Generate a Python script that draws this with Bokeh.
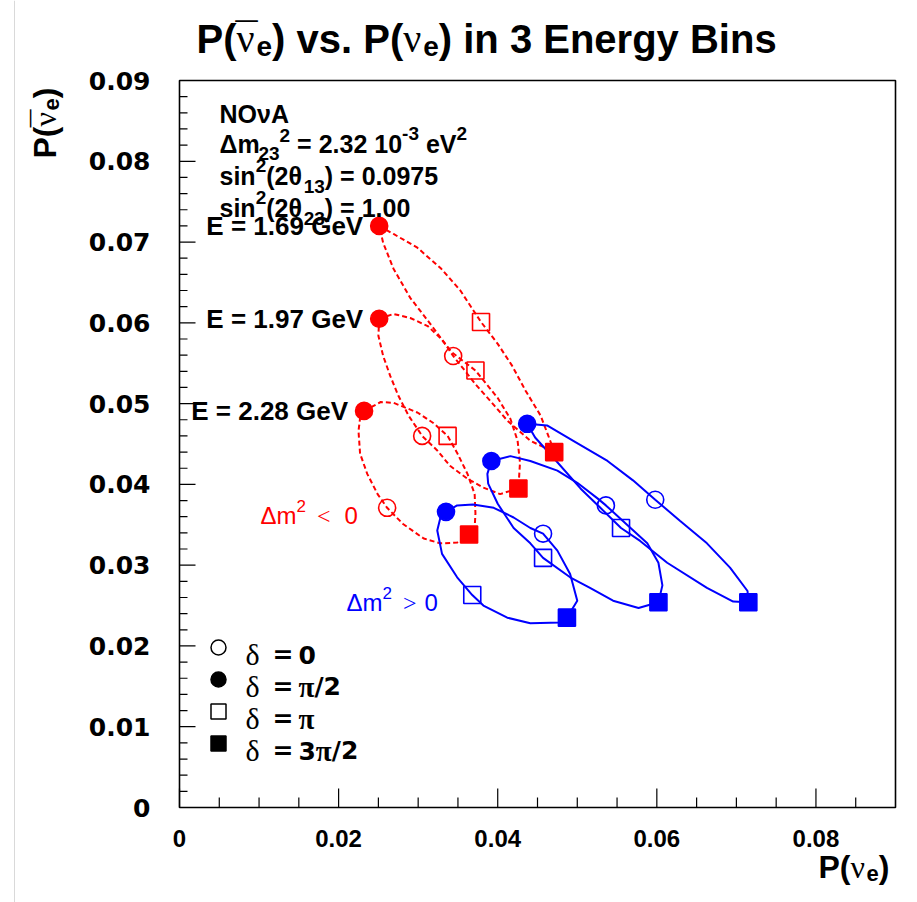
import math
from bokeh.plotting import figure
from bokeh.models import Label, Range1d
from bokeh.core.properties import value
from bokeh.embed import file_html
from bokeh.resources import INLINE

# ---------------- data ----------------
energies = ["1.69", "1.97", "2.28"]

# Marker positions (P(nu_e), P(nubar_e)) for delta = 0, pi/2, pi, 3pi/2, one per energy bin
# normal hierarchy, dm^2 > 0
nh_d0_x = [0.0598, 0.0536, 0.0457]
nh_d0_y = [0.0381, 0.0374, 0.0339]
nh_d90_x = [0.0437, 0.0392, 0.0335]
nh_d90_y = [0.0475, 0.0429, 0.0366]
nh_d180_x = [0.0555, 0.0457, 0.0368]
nh_d180_y = [0.0346, 0.0309, 0.0263]
nh_d270_x = [0.0715, 0.0602, 0.0487]
nh_d270_y = [0.0254, 0.0254, 0.0235]
# inverted hierarchy, dm^2 < 0
ih_d0_x = [0.0344, 0.0305, 0.0261]
ih_d0_y = [0.0559, 0.0460, 0.0371]
ih_d90_x = [0.0251, 0.0251, 0.0232]
ih_d90_y = [0.0720, 0.0605, 0.0491]
ih_d180_x = [0.0379, 0.0372, 0.0337]
ih_d180_y = [0.0601, 0.0541, 0.0460]
ih_d270_x = [0.0471, 0.0426, 0.0364]
ih_d270_y = [0.0440, 0.0395, 0.0338]

# Closed delta-scan curves
ih_169_x = [0.0251, 0.0269, 0.0299, 0.0328, 0.0353, 0.0379, 0.0400, 0.0418, 0.0435, 0.0454, 0.0466, 0.0471,
            0.0441, 0.0412, 0.0391, 0.0372, 0.0357, 0.0344, 0.0334, 0.0315, 0.0290, 0.0269, 0.0256, 0.0251]
ih_169_y = [0.0720, 0.0710, 0.0693, 0.0668, 0.0640, 0.0601, 0.0574, 0.0547, 0.0516, 0.0485, 0.0454, 0.0440,
            0.0454, 0.0479, 0.0503, 0.0524, 0.0543, 0.0559, 0.0574, 0.0599, 0.0631, 0.0667, 0.0699, 0.0720]
ih_197_x = [0.0251, 0.0269, 0.0290, 0.0312, 0.0328, 0.0343, 0.0372, 0.0400, 0.0416, 0.0425, 0.0428, 0.0426,
            0.0403, 0.0382, 0.0362, 0.0340, 0.0324, 0.0305, 0.0288, 0.0275, 0.0265, 0.0256, 0.0250, 0.0251]
ih_197_y = [0.0605, 0.0611, 0.0606, 0.0596, 0.0581, 0.0563, 0.0541, 0.0507, 0.0481, 0.0454, 0.0427, 0.0395,
            0.0388, 0.0396, 0.0407, 0.0423, 0.0442, 0.0460, 0.0485, 0.0510, 0.0534, 0.0559, 0.0584, 0.0605]
ih_228_x = [0.0232, 0.0253, 0.0269, 0.0299, 0.0319, 0.0337, 0.0349, 0.0362, 0.0371, 0.0372, 0.0371, 0.0364,
            0.0349, 0.0328, 0.0307, 0.0281, 0.0261, 0.0249, 0.0236, 0.0227, 0.0225, 0.0227, 0.0232]
ih_228_y = [0.0491, 0.0502, 0.0501, 0.0489, 0.0476, 0.0460, 0.0439, 0.0413, 0.0388, 0.0364, 0.0346, 0.0338,
            0.0328, 0.0327, 0.0333, 0.0351, 0.0371, 0.0388, 0.0413, 0.0438, 0.0466, 0.0482, 0.0491]
nh_169_x = [0.0437, 0.0462, 0.0495, 0.0538, 0.0570, 0.0598, 0.0629, 0.0663, 0.0692, 0.0714, 0.0715,
            0.0696, 0.0663, 0.0613, 0.0579, 0.0555, 0.0529, 0.0504, 0.0470, 0.0447, 0.0437]
nh_169_y = [0.0475, 0.0473, 0.0454, 0.0429, 0.0405, 0.0381, 0.0355, 0.0327, 0.0297, 0.0268, 0.0254,
            0.0255, 0.0272, 0.0303, 0.0330, 0.0346, 0.0371, 0.0395, 0.0433, 0.0458, 0.0475]
nh_197_x = [0.0392, 0.0416, 0.0441, 0.0475, 0.0500, 0.0525, 0.0536, 0.0567, 0.0588, 0.0602, 0.0607, 0.0602,
            0.0577, 0.0545, 0.0516, 0.0491, 0.0457, 0.0441, 0.0420, 0.0400, 0.0388, 0.0387, 0.0392]
nh_197_y = [0.0429, 0.0435, 0.0429, 0.0417, 0.0402, 0.0383, 0.0374, 0.0346, 0.0327, 0.0303, 0.0275, 0.0254,
            0.0247, 0.0256, 0.0272, 0.0285, 0.0309, 0.0327, 0.0346, 0.0376, 0.0401, 0.0413, 0.0429]
nh_228_x = [0.0335, 0.0349, 0.0369, 0.0395, 0.0420, 0.0441, 0.0457, 0.0475, 0.0491, 0.0500, 0.0487,
            0.0479, 0.0441, 0.0412, 0.0382, 0.0368, 0.0349, 0.0330, 0.0324, 0.0328, 0.0335]
nh_228_y = [0.0366, 0.0374, 0.0375, 0.0371, 0.0359, 0.0346, 0.0339, 0.0318, 0.0289, 0.0256, 0.0235,
            0.0229, 0.0228, 0.0235, 0.0250, 0.0263, 0.0285, 0.0314, 0.0343, 0.0359, 0.0366]

axis_min, axis_max = 0.0, 0.09
x_ticks = [0, 0.02, 0.04, 0.06, 0.08]
x_tick_labels = ["0", "0.02", "0.04", "0.06", "0.08"]
y_ticks = [0, 0.01, 0.02, 0.03, 0.04, 0.05, 0.06, 0.07, 0.08, 0.09]
y_tick_labels = ["0", "0.01", "0.02", "0.03", "0.04", "0.05", "0.06", "0.07", "0.08", "0.09"]
delta_values = ["0", "π/2", "π", "3π/2"]

# ---------------- canvas geometry (pixels) ----------------
W, H = 917, 902
FL, FR, FT, FB = 179, 895, 80, 807          # plotting box edges
KX = (axis_max - axis_min) / (FR - FL)      # data units per pixel
KY = (axis_max - axis_min) / (FB - FT)
RED, BLUE = "#ff0000", "#0000ff"


def fx(px):
    return axis_min + (px - FL) * KX


def fy(py):
    return axis_min + (FB - py) * KY


p = figure(width=W, height=H, output_backend="svg", toolbar_location=None, title=None,
           x_range=Range1d(fx(0), fx(W)), y_range=Range1d(fy(H), fy(0)),
           x_axis_location=None, y_axis_location=None,
           min_border_left=0, min_border_right=0, min_border_top=0, min_border_bottom=0)
p.background_fill_color = "white"
p.border_fill_color = "white"
p.outline_line_color = None
p.xgrid.visible = False
p.ygrid.visible = False

# thin page edge on the left
p.segment(x0=[fx(14)], y0=[fy(0)], x1=[fx(14)], y1=[fy(H)], line_color="#d9d9d9", line_width=1)

# ---------------- axes box, ticks and tick labels ----------------
p.quad(left=[axis_min], right=[axis_max], bottom=[axis_min], top=[axis_max],
       fill_color=None, line_color="black", line_width=1.6)

x_minor = [i * 0.005 for i in range(1, 18) if i % 4 != 0]
y_minor = [i * 0.002 for i in range(1, 45) if i % 5 != 0]
p.segment(x0=x_ticks, y0=[axis_min] * len(x_ticks), x1=x_ticks,
          y1=[axis_min + 19 * KY] * len(x_ticks), line_color="black", line_width=1.2)
p.segment(x0=x_minor, y0=[axis_min] * len(x_minor), x1=x_minor,
          y1=[axis_min + 10 * KY] * len(x_minor), line_color="black", line_width=1.2)
p.segment(x0=[axis_min] * len(y_ticks), y0=y_ticks, x1=[axis_min + 16 * KX] * len(y_ticks),
          y1=y_ticks, line_color="black", line_width=1.2)
p.segment(x0=[axis_min] * len(y_minor), y0=y_minor, x1=[axis_min + 8 * KX] * len(y_minor),
          y1=y_minor, line_color="black", line_width=1.2)

p.text(x=x_ticks, y=[axis_min - 31 * KY] * len(x_ticks), text=x_tick_labels,
       text_font=value("Liberation Sans"), text_font_style="bold", text_font_size="24px",
       text_align="center", text_baseline="alphabetic", text_color="black")
p.text(x=[axis_min - 29 * KX] * len(y_ticks), y=y_ticks, text=y_tick_labels,
       text_font=value("DejaVu Sans"), text_font_style="bold", text_font_size="25px",
       text_align="right", text_baseline="middle", text_color="black")

# ---------------- text runs helper ----------------
SB = {' ': .278, '(': .333, ')': .333, '.': .278, '=': .584, '-': .333, '/': .278,
      'A': .722, 'B': .722, 'E': .667, 'G': .778, 'N': .722, 'O': .778, 'P': .667, 'V': .667,
      'e': .556, 'g': .611, 'i': .278, 'm': .889, 'n': .611, 'r': .389, 's': .556, 'v': .556,
      'y': .556, 'Δ': .668, 'θ': .611, 'ν': .556, '¯': .552}
SR = {' ': .278, 'Δ': .668, 'm': .833, '¯': .552}
SERIF = {'ν': .5, 'δ': .5, 'π': .55, '<': .564, '>': .564, '¯': .333}
DB = {'=': .838, '/': .365, '.': .38, ' ': .348}
TABLES = {"sb": SB, "sr": SR, "serif": SERIF, "serifb": SERIF, "db": DB}
FONTS = {"sb": ("Liberation Sans", "bold"), "sr": ("Liberation Sans", "normal"),
         "serif": ("Liberation Serif", "normal"), "serifb": ("Liberation Serif", "bold"),
         "db": ("DejaVu Sans", "bold")}
DEFAULT_W = {"sb": .556, "sr": .556, "serif": .5, "serifb": .5, "db": .696}


def text_w(s, kind, size):
    t = TABLES[kind]
    return sum(t.get(c, DEFAULT_W[kind]) for c in s) * size


def runs(x0, base, parts, color="black", vertical=False):
    """Lay out text pieces (with sub/superscripts) starting at pixel (x0, base)."""
    pos = 0.0
    last = (0.0, 0.0)
    for part in parts:
        text, kind, size, shift = part[:4]
        gap = part[4] if len(part) > 4 else 0
        if text == "¯":
            start = last[0] + (last[1] - text_w(text, kind, size)) / 2
        else:
            pos += gap
            start = pos
        if vertical:
            sx, sy = x0 + shift, base - start
        else:
            sx, sy = x0 + start, base + shift
        fam, style = FONTS[kind]
        p.add_layout(Label(x=fx(sx), y=fy(sy), text=text, text_font=fam, text_font_style=style,
                           text_font_size=f"{size}px", text_color=color, text_align="left",
                           text_baseline="alphabetic", angle=math.pi / 2 if vertical else 0))
        if text != "¯":
            w = text_w(text, kind, size)
            last = (start, w)
            pos += w


# ---------------- curves ----------------
for cx, cy in [(ih_169_x, ih_169_y), (ih_197_x, ih_197_y), (ih_228_x, ih_228_y)]:
    p.line(cx, cy, line_color=RED, line_width=2, line_dash="5 3")
for cx, cy in [(nh_169_x, nh_169_y), (nh_197_x, nh_197_y), (nh_228_x, nh_228_y)]:
    p.line(cx, cy, line_color=BLUE, line_width=2)

# ---------------- markers ----------------
marker_sets = [
    (ih_d0_x, ih_d0_y, "circle", False, RED), (ih_d90_x, ih_d90_y, "circle", True, RED),
    (ih_d180_x, ih_d180_y, "square", False, RED), (ih_d270_x, ih_d270_y, "square", True, RED),
    (nh_d0_x, nh_d0_y, "circle", False, BLUE), (nh_d90_x, nh_d90_y, "circle", True, BLUE),
    (nh_d180_x, nh_d180_y, "square", False, BLUE), (nh_d270_x, nh_d270_y, "square", True, BLUE),
]
for mx, my, mk, filled, col in marker_sets:
    p.scatter(mx, my, marker=mk, size=17, line_color=col, line_width=1.6,
              fill_color=col if filled else None)

# energy labels next to the delta = pi/2 points of the inverted hierarchy
for i, e in enumerate(energies):
    p.add_layout(Label(x=ih_d90_x[i], y=ih_d90_y[i], x_offset=-16, text=f"E = {e} GeV",
                       text_font="Liberation Sans", text_font_style="bold", text_font_size="26px",
                       text_align="right", text_baseline="middle", text_color="black"))

# ---------------- legend ----------------
leg_px_x, leg_px_y0, leg_step = 218, 647, 32
leg_styles = [("circle", None), ("circle", "black"), ("square", None), ("square", "black")]
for k, ((mk, fill), dv) in enumerate(zip(leg_styles, delta_values)):
    cy = leg_px_y0 + k * leg_step
    p.scatter([fx(leg_px_x)], [fy(cy)], marker=mk, size=15, line_color="black",
              line_width=1.5, fill_color=fill)
    parts = [("δ", "serif", 30, 0), ("=", "db", 25, 0, 12)]
    buf, buf_kind, first = "", None, True
    for ch in dv:
        kind = "serifb" if ch == "π" else "db"
        if buf and kind != buf_kind:
            parts.append((buf, buf_kind, 29 if buf_kind == "serifb" else 25, 0, 5 if first else 0))
            first = False
            buf = ""
        buf += ch
        buf_kind = kind
    parts.append((buf, buf_kind, 29 if buf_kind == "serifb" else 25, 0, 5 if first else 0))
    runs(245, cy + 7, parts)

# ---------------- texts ----------------
runs(196, 38, [("P(", "sb", 40, 0), ("ν", "serif", 40, 0), ("¯", "sb", 40, -2), ("e", "sb", 28, 8),
               (") vs. P(", "sb", 40, 0), ("ν", "serif", 40, 0), ("e", "sb", 28, 8),
               (") in 3 Energy Bins", "sb", 40, 0)])
runs(818, 866, [("P(", "sb", 32, 0), ("ν", "serif", 32, 0), ("e", "sb", 22, 7), (")", "sb", 32, 0)])
runs(44, 158, [("P(", "sb", 32, 0), ("ν", "serif", 32, 0), ("¯", "sb", 32, -2), ("e", "sb", 22, 7),
               (")", "sb", 32, 0)], vertical=True)

runs(219, 113, [("NOνA", "sb", 25, 0)])
runs(219, 143, [("Δm", "sb", 25, 0), ("23", "sb", 19, 10), ("2", "sb", 19, -8),
                ("= 2.32 10", "sb", 25, 0, 7), ("-3", "sb", 19, -10), ("eV", "sb", 25, 0, 7),
                ("2", "sb", 19, -10)])
runs(219, 175, [("sin", "sb", 25, 0), ("2", "sb", 19, -10), ("(2θ", "sb", 25, 0), ("13", "sb", 19, 11),
                (") = 0.0975", "sb", 25, 0)])
runs(219, 207, [("sin", "sb", 25, 0), ("2", "sb", 19, -10), ("(2θ", "sb", 25, 0), ("23", "sb", 19, 11),
                (") = 1.00", "sb", 25, 0)])

runs(260, 515, [("Δm", "sr", 24, 0), ("2", "sr", 17, -10), ("<", "serif", 24, 0, 11),
                ("0", "sr", 24, 0, 14)], color=RED)
runs(346, 602, [("Δm", "sr", 24, 0), ("2", "sr", 17, -10), (">", "serif", 24, 0, 11),
                ("0", "sr", 24, 0, 8)], color=BLUE)

open("out.html", "w").write(file_html(p, INLINE))
